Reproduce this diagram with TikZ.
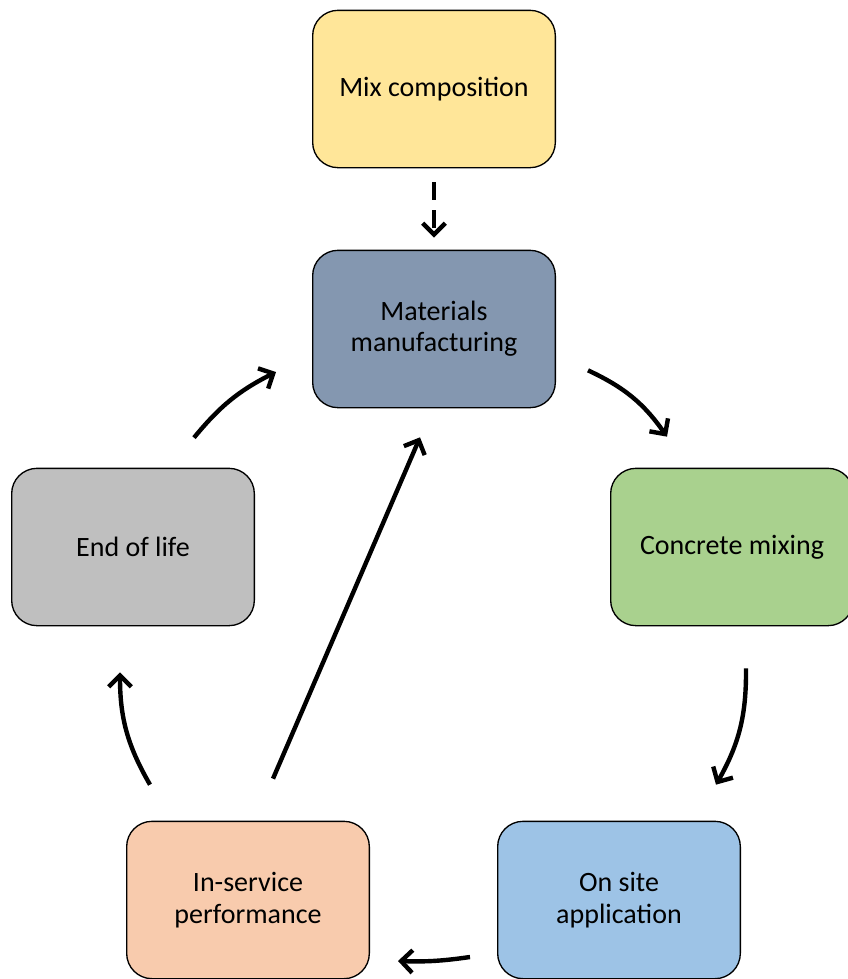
\documentclass[tikz,border=0pt]{standalone}
\usepackage{fontspec}
\setmainfont{Carlito}
\usetikzlibrary{arrows.meta}

\definecolor{mixfill}{HTML}{FFE699}
\definecolor{matfill}{HTML}{8497B0}
\definecolor{cmfill}{HTML}{A9D18E}
\definecolor{eolfill}{HTML}{BFBFBF}
\definecolor{isfill}{HTML}{F8CBAD}
\definecolor{osfill}{HTML}{9DC3E6}

\tikzset{
  stage/.style={draw=black, line width=1pt, rounded corners=19pt,
    minimum width=182pt, minimum height=118pt, inner sep=0pt,
    align=center, font=\fontsize{21}{23.5}\selectfont},
  flow/.style={line width=3.3pt, -{Straight Barb[length=8.5pt,width=17pt]}},
}

\begin{document}
\begin{tikzpicture}[x=0.75pt, y=-0.75pt]
  \useasboundingbox (0,0) rectangle (848,979);

  \node[stage, fill=mixfill] (mix) at (434,89)  {Mix composition};
  \node[stage, fill=matfill] (mat) at (434,329) {Materials\\manufacturing};
  \node[stage, fill=cmfill]  (cm)  at (732,547) {Concrete mixing};
  \node[stage, fill=eolfill] (eol) at (133,547) {End of life};
  \node[stage, fill=isfill]  (ins) at (248,900) {In-service\\performance};
  \node[stage, fill=osfill]  (os)  at (619,900) {On site\\application};

  % supply of the mix
  \draw[flow, dash pattern=on 13pt off 8pt]
    ([shift={(0,14)}]mix.south) -- ([shift={(0,-12)}]mat.north);

  % life cycle loop
  \draw[flow] ([shift={(32,-38)}]mat.south east) to[bend left=15]
    ([shift={(57,-31)}]cm.north west);
  \draw[flow] ([shift={(14,42)}]cm.south) to[bend left=15]
    ([shift={(-25,-36)}]os.north east);
  \draw[flow] ([shift={(-27,57)}]os.west) to[bend left=5]
    ([shift={(28,61)}]ins.east);
  \draw[flow] ([shift={(24,-36)}]ins.north west) to[bend left=15]
    ([shift={(-13,46)}]eol.south);
  \draw[flow] ([shift={(61,-30)}]eol.north) to[bend left=12]
    ([shift={(-36,43)}]mat.west);

  % direct return to manufacturing
  \draw[flow] ([shift={(25,-42)}]ins.north) -- ([shift={(-14,29)}]mat.south);
\end{tikzpicture}
\end{document}
